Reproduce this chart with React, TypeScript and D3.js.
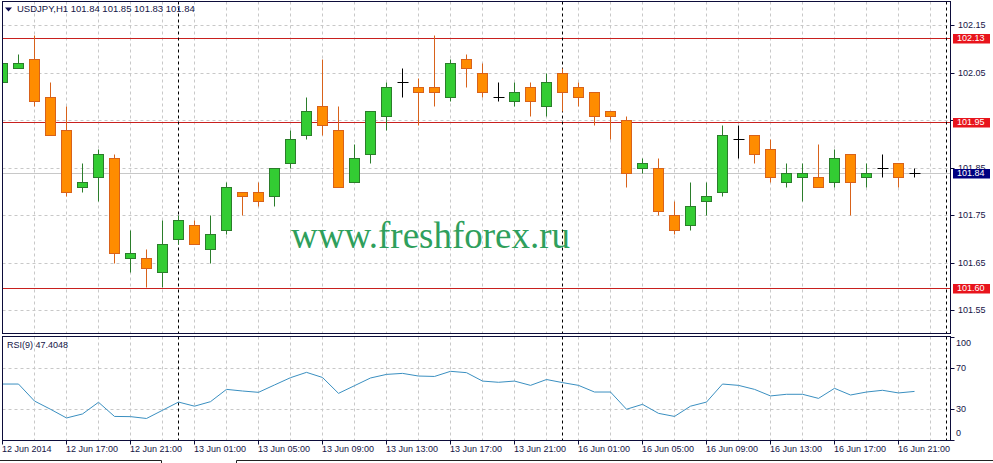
import React from "react";
import * as d3 from "d3";

// ---- data ----
const candleOpen = [102.03,102.06,102.08,102.00,101.93,101.81,101.83,101.87,101.66,101.66,101.63,101.70,101.73,101.68,101.72,101.80,101.80,101.79,101.86,101.92,101.98,101.93,101.82,101.88,101.96,102.03,102.02,102.02,102.00,102.08,102.05,102.00,101.99,102.02,101.98,102.05,102.02,102.01,101.97,101.95,101.85,101.85,101.75,101.73,101.78,101.80,101.91,101.92,101.89,101.82,101.83,101.83,101.82,101.88,101.83,101.85,101.86,101.84];
const candleHigh = [102.07,102.09,102.13,102.03,101.98,101.86,101.89,101.88,101.72,101.68,101.74,101.75,101.74,101.75,101.82,101.80,101.82,101.85,101.93,102.00,102.08,101.98,101.90,101.97,102.03,102.06,102.04,102.13,102.08,102.09,102.07,102.03,102.03,102.03,102.05,102.06,102.03,102.01,101.97,101.96,101.87,101.87,101.78,101.82,101.82,101.94,101.94,101.92,101.91,101.86,101.86,101.90,101.89,101.88,101.86,101.88,101.86,101.85];
const candleLow = [102.01,102.06,101.98,101.92,101.79,101.80,101.78,101.65,101.63,101.60,101.60,101.69,101.69,101.65,101.71,101.75,101.77,101.77,101.85,101.91,101.92,101.81,101.82,101.86,101.93,102.00,101.94,101.98,101.99,102.02,102.00,101.99,101.98,101.96,101.96,101.97,101.98,101.94,101.91,101.81,101.84,101.75,101.71,101.72,101.75,101.79,101.87,101.86,101.82,101.81,101.78,101.81,101.81,101.75,101.81,101.83,101.81,101.83];
const candleClose = [102.07,102.07,101.99,101.92,101.80,101.82,101.88,101.67,101.67,101.64,101.69,101.74,101.69,101.71,101.81,101.79,101.78,101.85,101.91,101.97,101.94,101.81,101.87,101.97,102.02,102.03,102.01,102.01,102.07,102.06,102.01,102.00,102.01,101.99,102.03,102.01,102.00,101.96,101.96,101.84,101.86,101.76,101.72,101.77,101.79,101.92,101.91,101.88,101.83,101.84,101.84,101.81,101.87,101.82,101.84,101.85,101.83,101.84];
const rsiValues = [54.6,54.6,38,30,21.5,25.4,36.8,23,22.8,21,29,37,33,37.4,49.4,47.8,46.5,53.7,60.8,66,61,45.5,53,60.5,64,65,62.4,62,67,65.7,57.5,56.3,57.5,53.3,59,56,53.3,46.8,46.8,30,34.8,26,23,33,37,54.6,53.3,49.4,43,44.6,44.6,40.6,50.4,43.9,46.8,48.5,45.9,47.4048];

const timeLabels = ["12 Jun 2014","12 Jun 17:00","12 Jun 21:00","13 Jun 01:00","13 Jun 05:00","13 Jun 09:00","13 Jun 13:00","13 Jun 17:00","13 Jun 21:00","16 Jun 01:00","16 Jun 05:00","16 Jun 09:00","16 Jun 13:00","16 Jun 17:00","16 Jun 21:00"];
const timeLabelStep = 4;
const daySeparators = [11, 35];
const priceTicks = ["102.15","102.05","101.95","101.85","101.75","101.65","101.55"];
const hiddenPriceLabels = ["101.95"];
const levelValues = [102.124, 101.947, 101.597];
const levelLabels = ["102.13", "101.95", "101.60"];
const bidValue = 101.84;
const bidLabel = "101.84";
const rsiTicks = [100, 70, 30, 0];
const rsiLevels = [70, 30];
const titleText = "USDJPY,H1  101.84 101.85 101.83 101.84";
const rsiTitle = "RSI(9) 47.4048";
const watermark = "www.freshforex.ru";

// ---- layout ----
const W = 993, H = 463;
const L = 2.5, R = 950.5;
const mainTop = 1.5, mainBottom = 333.5;
const rsiTop = 336.5, rsiBottom = 440.5;
const FONT = "'Liberation Sans', Arial, sans-serif";
const TXT = "#141446";
const FRAME = "#0c0c3a";
const GRID = "#c8c8c8";

export default function App() {
  const n = candleOpen.length;
  const x = d3.scaleLinear().domain([0, n - 1]).range([2.5, 2.5 + 16 * (n - 1)]);
  const y = d3.scaleLinear().domain([101.55, 102.15]).range([310.8, 25.8]);
  const yr = d3.scaleLinear().domain([0, 100]).range([440, 337.5]);
  const sy = (v: number) => Math.floor(y(v)) + 0.5;

  const gridXs: number[] = [];
  for (let i = 0; x(i) < R; i += 2) gridXs.push(x(i));

  const rsiLine = d3.line<number>().x((_, i) => x(i)).y((d) => yr(d));

  const bullFill = "#33cc33", bullStroke = "#2b7d2b";
  const bearFill = "#ff8c00", bearStroke = "#d8621a";
  const bidY = sy(bidValue);

  return (
    <svg width={W} height={H} style={{ position: "absolute", left: 0, top: 0, background: "#fff" }}
      fontFamily={FONT}>
      <defs>
        <clipPath id="mainClip"><rect x={L} y={mainTop} width={R - L} height={mainBottom - mainTop} /></clipPath>
        <clipPath id="rsiClip"><rect x={L} y={rsiTop} width={R - L} height={rsiBottom - rsiTop} /></clipPath>
        <clipPath id="bidClip"><rect x={952} y={0} width={41} height={bidY - 4.5} /></clipPath>
      </defs>
      <rect x={0} y={0} width={W} height={H} fill="#fff" />

      {/* main panel grid */}
      <g clipPath="url(#mainClip)">
        {gridXs.map((gx, i) => (
          <line key={"gv" + i} x1={gx} x2={gx} y1={mainTop} y2={mainBottom} stroke={GRID} strokeDasharray="3,3" />
        ))}
        {priceTicks.map((t) => (
          <line key={"gh" + t} x1={L} x2={R} y1={sy(+t)} y2={sy(+t)} stroke={GRID} strokeDasharray="3,3" />
        ))}
        <line x1={L} x2={R} y1={bidY} y2={bidY} stroke="#c8c8c8" />
        {levelValues.map((v, i) => (
          <line key={"lv" + i} x1={L} x2={R} y1={sy(v)} y2={sy(v)} stroke="#c8201e" />
        ))}
        <text x={291} y={248} fontFamily="'Liberation Serif', 'Times New Roman', serif" fontSize={37} fill="#2f9f5c">{watermark}</text>
        {daySeparators.map((d) => (
          <line key={"ds" + d} x1={x(d)} x2={x(d)} y1={mainTop} y2={mainBottom} stroke="#000" strokeDasharray="3,3" />
        ))}
        <line x1={946.5} x2={946.5} y1={mainTop} y2={mainBottom} stroke="#000" strokeDasharray="3,3" />
        {candleOpen.map((o, i) => {
          const c = candleClose[i], h = candleHigh[i], l = candleLow[i];
          const cx = x(i);
          if (o === c) {
            return (
              <g key={"c" + i} stroke="#000">
                <line x1={cx} x2={cx} y1={sy(h)} y2={sy(l)} />
                <line x1={cx - 5} x2={cx + 6} y1={sy(o)} y2={sy(o)} />
              </g>
            );
          }
          const bull = c > o;
          const top = sy(Math.max(o, c)), bot = sy(Math.min(o, c));
          return (
            <g key={"c" + i}>
              <line x1={cx} x2={cx} y1={sy(h)} y2={sy(l)} stroke={bull ? bullStroke : bearStroke} />
              <rect x={cx - 5} y={top} width={10} height={Math.max(1, bot - top)} fill={bull ? bullFill : bearFill} stroke={bull ? bullStroke : bearStroke} />
            </g>
          );
        })}
      </g>

      {/* RSI panel */}
      <g clipPath="url(#rsiClip)">
        {gridXs.map((gx, i) => (
          <line key={"rv" + i} x1={gx} x2={gx} y1={rsiTop} y2={rsiBottom} stroke={GRID} strokeDasharray="3,3" />
        ))}
        {rsiLevels.map((v) => (
          <line key={"rl" + v} x1={L} x2={R} y1={Math.floor(yr(v)) + 0.5} y2={Math.floor(yr(v)) + 0.5} stroke={GRID} strokeDasharray="3,3" />
        ))}
        {daySeparators.map((d) => (
          <line key={"rs" + d} x1={x(d)} x2={x(d)} y1={rsiTop} y2={rsiBottom} stroke="#000" strokeDasharray="3,3" />
        ))}
        <line x1={946.5} x2={946.5} y1={rsiTop} y2={rsiBottom} stroke="#000" strokeDasharray="3,3" />
        <path d={rsiLine(rsiValues) || ""} fill="none" stroke="#3a8fc0" strokeWidth={1} />
      </g>

      {/* frames */}
      <rect x={L} y={mainTop} width={R - L} height={mainBottom - mainTop} fill="none" stroke={FRAME} />
      <rect x={L} y={rsiTop} width={R - L} height={rsiBottom - rsiTop} fill="none" stroke={FRAME} />

      {/* titles */}
      <path d="M5,7.5 L12,7.5 L8.5,11.5 Z" fill="#0c0c50" />
      <text x={17} y={9.5} dominantBaseline="middle" fontSize={9.5} fill={TXT}>{titleText}</text>
      <text x={7} y={346} dominantBaseline="middle" fontSize={9} fill={TXT}>{rsiTitle}</text>

      {/* price axis */}
      {priceTicks.map((t) => (
        <g key={"pt" + t}>
          <line x1={R} x2={R + 4} y1={sy(+t)} y2={sy(+t)} stroke={FRAME} />
          {hiddenPriceLabels.includes(t) ? null : (
            <text x={958} y={sy(+t)} dominantBaseline="middle" fontSize={9} fill={TXT}
              clipPath={Math.abs(sy(+t) - bidY) < 8 ? "url(#bidClip)" : undefined}>{t}</text>
          )}
        </g>
      ))}
      {levelValues.map((v, i) => (
        <g key={"lb" + i}>
          <rect x={953} y={sy(v) - 4.5} width={37} height={9.5} fill="#e8141c" />
          <text x={957} y={sy(v) + 0.5} dominantBaseline="middle" fontSize={9} fill="#fff">{levelLabels[i]}</text>
        </g>
      ))}
      <rect x={953} y={bidY - 4.5} width={37} height={9.5} fill="#000080" />
      <text x={957} y={bidY + 0.5} dominantBaseline="middle" fontSize={9} fill="#fff">{bidLabel}</text>

      {/* RSI axis */}
      {rsiTicks.map((t) => {
        const ty = t === 100 ? 343.5 : t === 0 ? 433.5 : yr(t);
        return (
          <g key={"rt" + t}>
            <line x1={R} x2={R + 4} y1={Math.floor(yr(t)) + 0.5} y2={Math.floor(yr(t)) + 0.5} stroke={FRAME} />
            <text x={956} y={ty} dominantBaseline="middle" fontSize={9} fill={TXT}>{t}</text>
          </g>
        );
      })}

      {/* time axis */}
      {timeLabels.map((t, i) => {
        const tx = x(i * timeLabelStep);
        return (
          <g key={"tl" + i}>
            <line x1={tx} x2={tx} y1={rsiBottom} y2={rsiBottom + 4} stroke={FRAME} />
            <text x={tx - 0.5} y={449.5} dominantBaseline="middle" fontSize={9} fill={TXT}>{t}</text>
          </g>
        );
      })}

      {/* bottom tab bar */}
      <path d="M0,460.5 H161.5 V463" fill="none" stroke="#222" />
      <path d="M236.5,463 V460.5 H993" fill="none" stroke="#222" />
    </svg>
  );
}
